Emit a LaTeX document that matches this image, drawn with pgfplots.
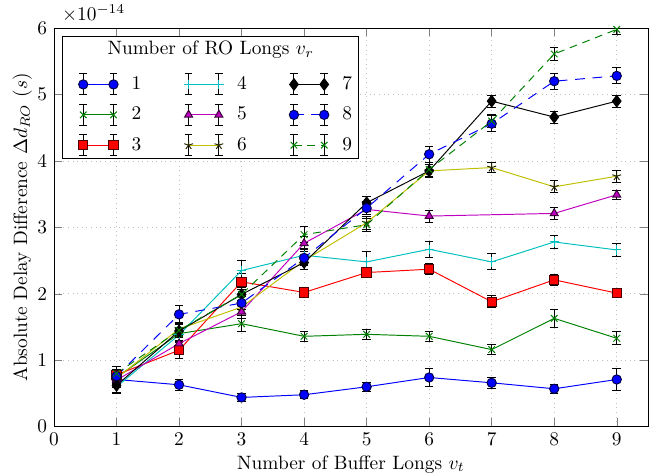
\documentclass[border=0pt]{standalone}
\usepackage{pgfplots}
\usepackage{pgfplotstable}
\pgfplotsset{compat=1.18}
\definecolor{mgreen}{rgb}{0,0.5,0}
\definecolor{mcyan}{rgb}{0,0.75,0.75}
\definecolor{mmag}{rgb}{0.75,0,0.75}
\definecolor{myel}{rgb}{0.75,0.75,0}

% values in units of 1e-14 s: x, mean, error
\pgfplotstableread{
x y e
1 0.71 0.12
2 0.63 0.08
3 0.44 0.06
4 0.48 0.06
5 0.60 0.07
6 0.74 0.14
7 0.66 0.08
8 0.57 0.07
9 0.71 0.16
}\rA
\pgfplotstableread{
x y e
1 0.74 0.10
2 1.40 0.10
3 1.55 0.12
4 1.36 0.08
5 1.39 0.08
6 1.36 0.08
7 1.16 0.08
8 1.63 0.13
9 1.33 0.10
}\rB
\pgfplotstableread{
x y e
1 0.78 0.08
2 1.15 0.12
3 2.18 0.12
4 2.02 0.07
5 2.32 0.08
6 2.37 0.08
7 1.88 0.09
8 2.21 0.08
9 2.01 0.07
}\rC
\pgfplotstableread{
x y e
1 0.60 0.10
2 1.38 0.10
3 2.35 0.15
4 2.58 0.10
5 2.48 0.15
6 2.67 0.12
7 2.48 0.12
8 2.78 0.10
9 2.66 0.10
}\rD
\pgfplotstableread{
x y e
1 0.70 0.08
2 1.25 0.10
3 1.73 0.10
4 2.76 0.10
5 3.27 0.08
6 3.17 0.09
8 3.21 0.09
9 3.49 0.07
}\rE
\pgfplotstableread{
x y e
1 0.73 0.08
2 1.47 0.10
3 1.80 0.10
4 2.50 0.08
5 3.07 0.10
6 3.85 0.10
7 3.90 0.08
8 3.61 0.09
9 3.77 0.09
}\rF
\pgfplotstableread{
x y e
1 0.62 0.10
2 1.44 0.10
3 1.99 0.12
4 2.47 0.10
5 3.37 0.10
6 3.85 0.10
7 4.90 0.09
8 4.66 0.09
9 4.90 0.09
}\rG
\pgfplotstableread{
x y e
1 0.76 0.10
2 1.69 0.13
3 1.86 0.10
4 2.54 0.10
5 3.29 0.10
6 4.10 0.12
7 4.56 0.12
8 5.20 0.12
9 5.28 0.12
}\rH
\pgfplotstableread{
x y e
1 0.80 0.10
2 1.45 0.10
3 1.99 0.10
4 2.89 0.12
5 3.04 0.10
6 3.87 0.10
7 4.60 0.10
8 5.61 0.10
9 5.98 0.08
}\rI

\begin{document}
\begin{tikzpicture}
\begin{axis}[
    name=ax,
    scale only axis,
    width=307pt, height=206pt,
    xmin=0, xmax=9.5, ymin=0, ymax=6e-14,
    xtick={0,...,9},
    ytick={0,1e-14,2e-14,3e-14,4e-14,5e-14,6e-14},
    scaled y ticks=base 10:14,
    tick scale binop=\times,
    every y tick scale label/.style={at={(axis description cs:0,1)}, anchor=south west,
      inner sep=0pt, xshift=4pt, yshift=3pt},
    xlabel={Number of Buffer Longs $v_t$},
    ylabel={Absolute Delay Difference $\Delta d_{RO}$ $(s)$},
    xlabel style={yshift=2pt},
    ylabel style={yshift=-4pt},
    grid=major,
    grid style={dotted, gray!50},
    every axis plot/.append style={line width=0.5pt},
    mark size=2.4pt,
    error bars/y dir=both,
    error bars/y explicit,
    error bars/error bar style={black, solid, line width=0.5pt},
    error bars/error mark options={black, solid, line width=0.5pt, mark size=2.2pt, rotate=90},
    legend columns=3,
    transpose legend,
    legend style={draw=none, fill=none, at={(0.031,0.899)}, anchor=north west,
      row sep=3.5pt,
      /tikz/every odd column/.append style={column sep=5pt},
      /tikz/every even column/.append style={column sep=20pt}},
    legend image code/.code={
      \draw[black, solid, line width=0.5pt]
        (0cm,-0.19cm) -- (0cm,0.19cm)
        (-0.07cm,-0.19cm) -- (0.07cm,-0.19cm)
        (-0.07cm,0.19cm) -- (0.07cm,0.19cm)
        (0.55cm,-0.19cm) -- (0.55cm,0.19cm)
        (0.48cm,-0.19cm) -- (0.62cm,-0.19cm)
        (0.48cm,0.19cm) -- (0.62cm,0.19cm);
      \draw[#1] plot coordinates {(0cm,0cm) (0.55cm,0cm)};
    },
  ]
  \addplot[blue, mark=*, mark options={fill=blue, draw=black!70!blue}]
    table[x=x, y expr=\thisrow{y}*1e-14, y error expr=\thisrow{e}*1e-14] {\rA};
  \addlegendentry{1}
  \addplot[mgreen, mark=x]
    table[x=x, y expr=\thisrow{y}*1e-14, y error expr=\thisrow{e}*1e-14] {\rB};
  \addlegendentry{2}
  \addplot[red, mark=square*, mark options={fill=red, draw=black!70!red}]
    table[x=x, y expr=\thisrow{y}*1e-14, y error expr=\thisrow{e}*1e-14] {\rC};
  \addlegendentry{3}
  \addplot[mcyan, mark=+]
    table[x=x, y expr=\thisrow{y}*1e-14, y error expr=\thisrow{e}*1e-14] {\rD};
  \addlegendentry{4}
  \addplot[mmag, mark=triangle*, mark options={fill=mmag, draw=black!70!mmag}]
    table[x=x, y expr=\thisrow{y}*1e-14, y error expr=\thisrow{e}*1e-14] {\rE};
  \addlegendentry{5}
  \addplot[myel, mark=star, mark options={draw=black!80!myel}]
    table[x=x, y expr=\thisrow{y}*1e-14, y error expr=\thisrow{e}*1e-14] {\rF};
  \addlegendentry{6}
  \addplot[black, mark=diamond*, mark size=3pt, mark options={fill=black}]
    table[x=x, y expr=\thisrow{y}*1e-14, y error expr=\thisrow{e}*1e-14] {\rG};
  \addlegendentry{7}
  \addplot[blue, dashed, dash pattern=on 5pt off 4pt, mark=*, mark options={solid, fill=blue, draw=black!70!blue}]
    table[x=x, y expr=\thisrow{y}*1e-14, y error expr=\thisrow{e}*1e-14] {\rH};
  \addlegendentry{8}
  \addplot[mgreen, dashed, dash pattern=on 4pt off 3pt, mark=x, mark options={solid}]
    table[x=x, y expr=\thisrow{y}*1e-14, y error expr=\thisrow{e}*1e-14] {\rI};
  \addlegendentry{9}
  \draw[black, fill=white, line width=0.5pt] (axis description cs:0.015,0.98) rectangle (axis description cs:0.513,0.672);
  \node[anchor=center] at (axis description cs:0.264,0.945) {Number of RO Longs $v_r$};
\end{axis}
\pgfresetboundingbox
\path ([shift={(-27.9pt,-24.3pt)}]ax.south west) rectangle ([shift={(6.2pt,14.5pt)}]ax.north east);
\end{tikzpicture}
\end{document}
